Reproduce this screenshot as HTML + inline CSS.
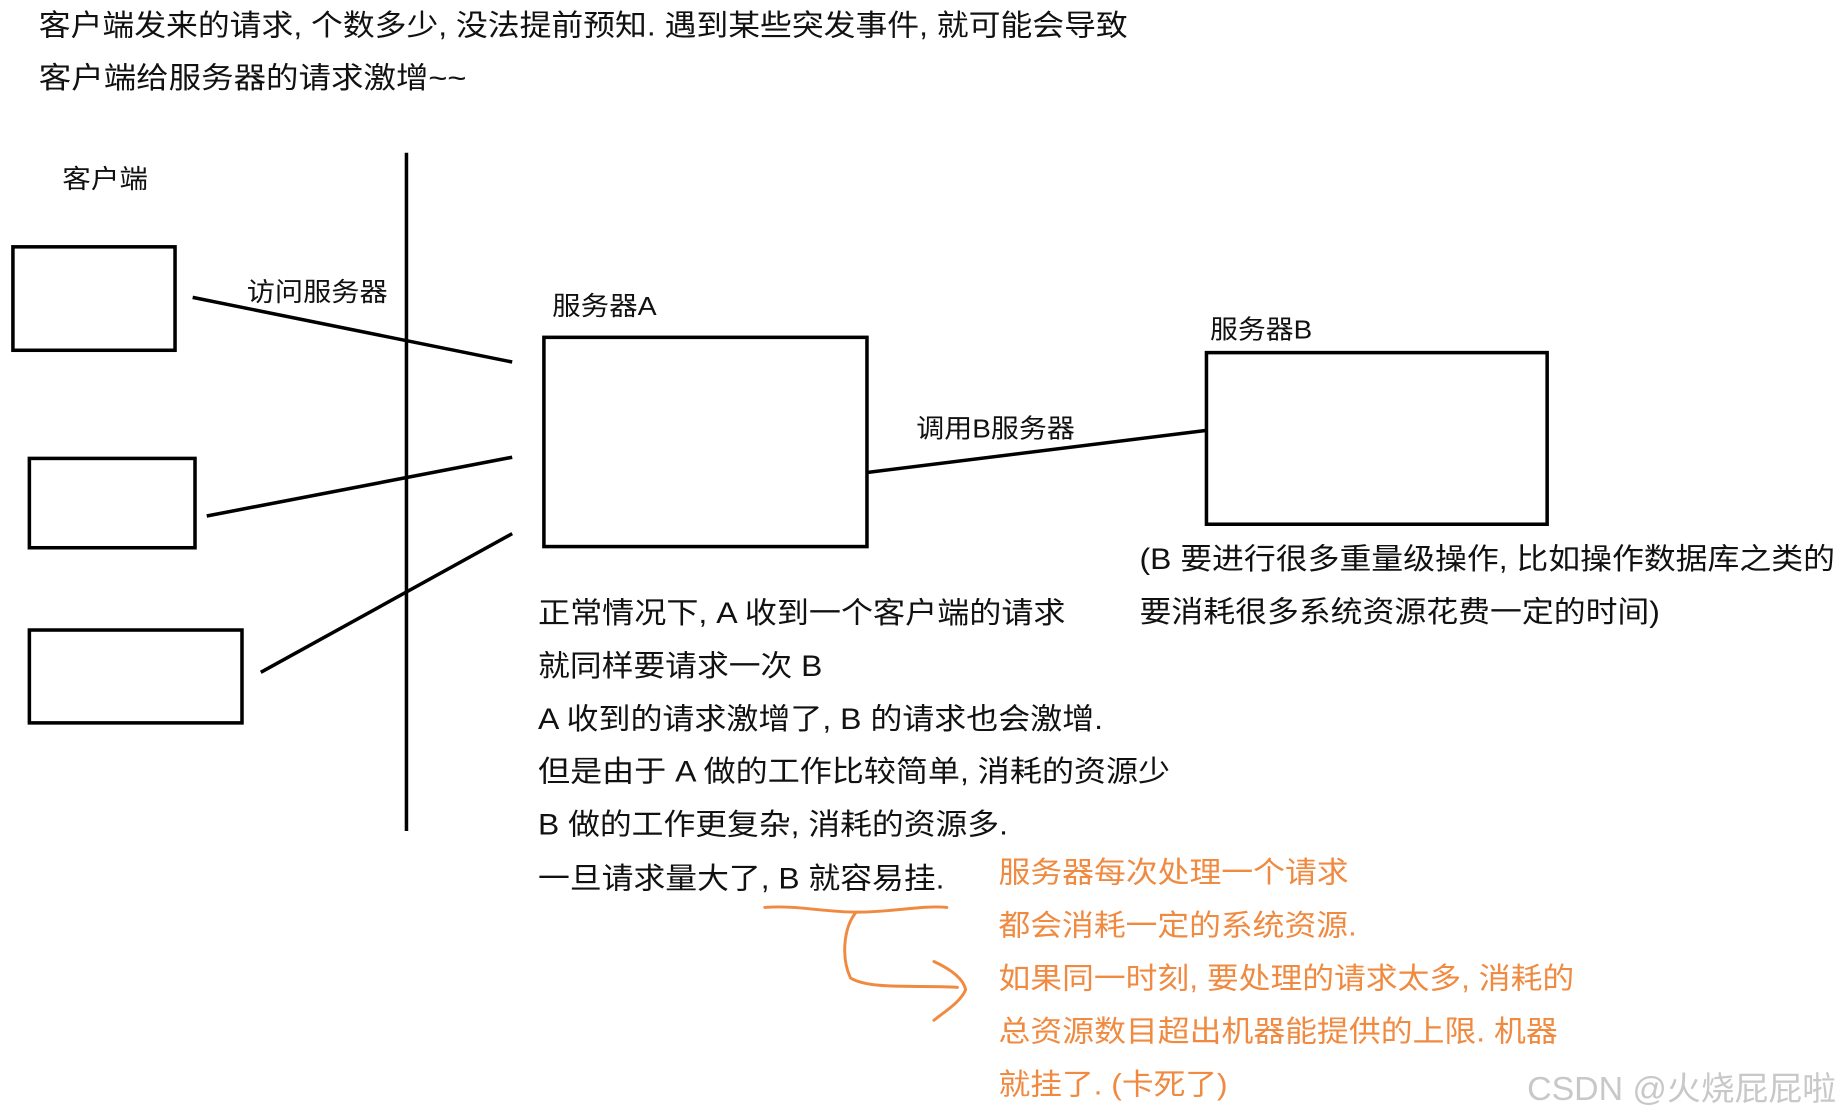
<!DOCTYPE html>
<html><head><meta charset="utf-8"><style>
html,body{margin:0;padding:0;background:#fff;}
svg{display:block;}
text{font-family:"Liberation Sans","Noto Sans CJK SC",sans-serif;fill:#111;}
.o{fill:#f08a40;}
</style></head><body>
<svg width="1842" height="1119" viewBox="0 0 1568 952" preserveAspectRatio="none" xmlns="http://www.w3.org/2000/svg">
<g font-size="25">
<text x="33" y="30" textLength="927" lengthAdjust="spacingAndGlyphs">客户端发来的请求, 个数多少, 没法提前预知. 遇到某些突发事件, 就可能会导致</text>
<text x="33" y="75" textLength="364" lengthAdjust="spacingAndGlyphs">客户端给服务器的请求激增~~</text>
</g>
<g font-size="22">
<text x="53" y="160" textLength="73" lengthAdjust="spacingAndGlyphs">客户端</text>
<text x="210" y="256" textLength="120" lengthAdjust="spacingAndGlyphs">访问服务器</text>
<text x="470" y="268" textLength="89" lengthAdjust="spacingAndGlyphs">服务器A</text>
<text x="780" y="372" textLength="135" lengthAdjust="spacingAndGlyphs">调用B服务器</text>
<text x="1030" y="288" textLength="87" lengthAdjust="spacingAndGlyphs">服务器B</text>
</g>
<g fill="none" stroke="#000" stroke-width="3">
<line x1="346" y1="130" x2="346" y2="707"/>
<rect x="11" y="210" width="138" height="88"/>
<rect x="25" y="390" width="141" height="76"/>
<rect x="25" y="536" width="181" height="79"/>
<line x1="164" y1="253" x2="436" y2="308"/>
<line x1="176" y1="439" x2="436" y2="389"/>
<line x1="222" y1="572" x2="436" y2="454"/>
<rect x="463" y="287" width="275" height="178"/>
<line x1="738" y1="402" x2="1028" y2="366"/>
<rect x="1027" y="300" width="290" height="146"/>
</g>
<g font-size="25">
<text x="970" y="484" textLength="592" lengthAdjust="spacingAndGlyphs">(B 要进行很多重量级操作, 比如操作数据库之类的</text>
<text x="970" y="529" textLength="443" lengthAdjust="spacingAndGlyphs">要消耗很多系统资源花费一定的时间)</text>
<text x="458" y="530" textLength="449" lengthAdjust="spacingAndGlyphs">正常情况下, A 收到一个客户端的请求</text>
<text x="458" y="575" textLength="242" lengthAdjust="spacingAndGlyphs">就同样要请求一次 B</text>
<text x="458" y="620" textLength="481" lengthAdjust="spacingAndGlyphs">A 收到的请求激增了, B 的请求也会激增.</text>
<text x="458" y="665" textLength="538" lengthAdjust="spacingAndGlyphs">但是由于 A 做的工作比较简单, 消耗的资源少</text>
<text x="458" y="710" textLength="400" lengthAdjust="spacingAndGlyphs">B 做的工作更复杂, 消耗的资源多.</text>
<text x="458" y="756" textLength="346" lengthAdjust="spacingAndGlyphs">一旦请求量大了, B 就容易挂.</text>
<text class="o" x="850" y="751" textLength="298" lengthAdjust="spacingAndGlyphs">服务器每次处理一个请求</text>
<text class="o" x="850" y="796" textLength="305" lengthAdjust="spacingAndGlyphs">都会消耗一定的系统资源.</text>
<text class="o" x="850" y="841" textLength="490" lengthAdjust="spacingAndGlyphs">如果同一时刻, 要处理的请求太多, 消耗的</text>
<text class="o" x="850" y="886" textLength="476" lengthAdjust="spacingAndGlyphs">总资源数目超出机器能提供的上限. 机器</text>
<text class="o" x="850" y="931" textLength="195" lengthAdjust="spacingAndGlyphs">就挂了. (卡死了)</text>
</g>
<g fill="none" stroke="#f08a40" stroke-width="2.5" stroke-linecap="round">
<path d="M651,772 C680,770 700,776 730,776 C760,776 785,770 806,772"/>
<path d="M728,777 C718,790 716,815 724,832 C740,842 780,838 815,840"/>
<path d="M795,818 C808,824 820,832 822,842 C818,852 805,860 795,868"/>
</g>
<text x="1300" y="936" font-size="28" fill="#c8c8c8" style="fill:#c8c8c8" textLength="263" lengthAdjust="spacingAndGlyphs">CSDN @火烧屁屁啦</text>
</svg>
</body></html>
